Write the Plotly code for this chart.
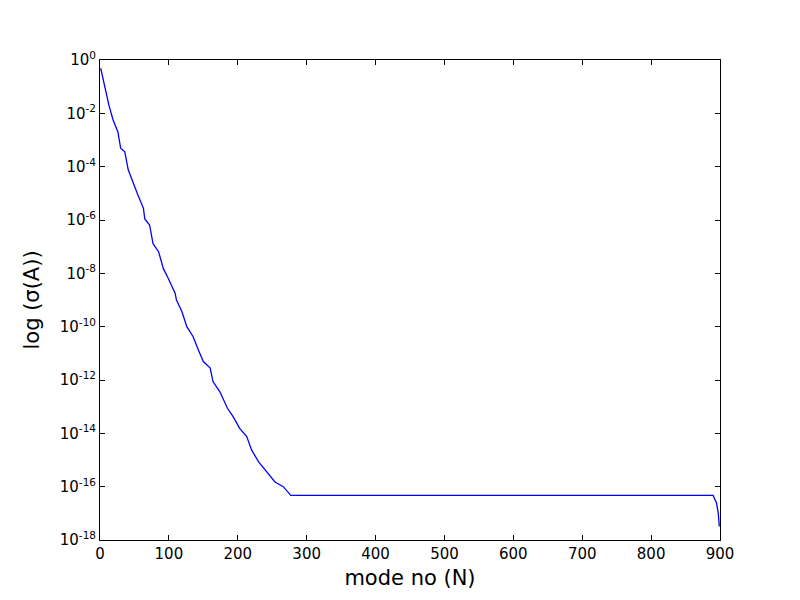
import plotly.graph_objects as go

# Mode number (x) and singular value sigma (y)
mode_no = [1, 7, 13, 19, 26, 30, 36, 41, 47, 55, 63, 65, 72, 77, 85, 92, 99, 102,
           109, 111, 119, 126, 135, 143, 150, 160, 164, 174, 181, 185, 193, 203,
           213, 220, 230, 242, 254, 266, 277, 400, 600, 800, 890, 895, 897.5, 899]
sigma = [4.9e-1, 8.7e-2, 2.0e-2, 5.6e-3, 2.0e-3, 4.9e-4, 3.6e-4, 7.6e-5, 2.8e-5,
         8.7e-6, 2.8e-6, 1.1e-6, 6.5e-7, 1.3e-7, 6.5e-8, 1.5e-8, 6.5e-9, 4.3e-9,
         1.8e-9, 1.0e-9, 3.6e-10, 1.0e-10, 4.3e-11, 1.3e-11, 4.9e-12, 2.8e-12,
         8.7e-13, 3.6e-13, 1.5e-13, 8.7e-14, 4.3e-14, 1.5e-14, 7.6e-15, 2.4e-15,
         8.7e-16, 3.6e-16, 1.5e-16, 1.0e-16, 4.7e-17, 4.7e-17, 4.7e-17, 4.7e-17,
         4.7e-17, 2.4e-17, 1.0e-17, 3.2e-18]

x_ticks = [0, 100, 200, 300, 400, 500, 600, 700, 800, 900]
y_tick_vals = [1e0, 1e-2, 1e-4, 1e-6, 1e-8, 1e-10, 1e-12, 1e-14, 1e-16, 1e-18]
y_tick_text = ["10<sup>0</sup>", "10<sup>-2</sup>", "10<sup>-4</sup>", "10<sup>-6</sup>",
               "10<sup>-8</sup>", "10<sup>-10</sup>", "10<sup>-12</sup>", "10<sup>-14</sup>",
               "10<sup>-16</sup>", "10<sup>-18</sup>"]

fig = go.Figure()
fig.add_trace(go.Scatter(x=mode_no, y=sigma, mode="lines",
                         line=dict(color="#0000ff", width=1.3), showlegend=False))

axis_common = dict(showline=True, linecolor="black", linewidth=1, mirror="ticks",
                   ticks="inside", ticklen=5, tickcolor="black", tickwidth=1,
                   showgrid=False, zeroline=False, automargin=False,
                   tickfont=dict(family="DejaVu Sans", size=15, color="black"))

fig.update_layout(
    width=784, height=584,
    margin=dict(l=92, r=72, t=52, b=52),
    paper_bgcolor="white", plot_bgcolor="white",
    font=dict(family="DejaVu Sans", color="black"),
    xaxis=dict(range=[0, 900], tickvals=x_ticks,
               title=dict(text="mode no (N)", font=dict(size=21), standoff=8),
               **axis_common),
    yaxis=dict(type="log", range=[-18, 0], tickvals=y_tick_vals, ticktext=y_tick_text,
               title=dict(text="log (σ(A))", font=dict(size=21), standoff=14),
               **axis_common),
)

fig.write_html("out.html")
